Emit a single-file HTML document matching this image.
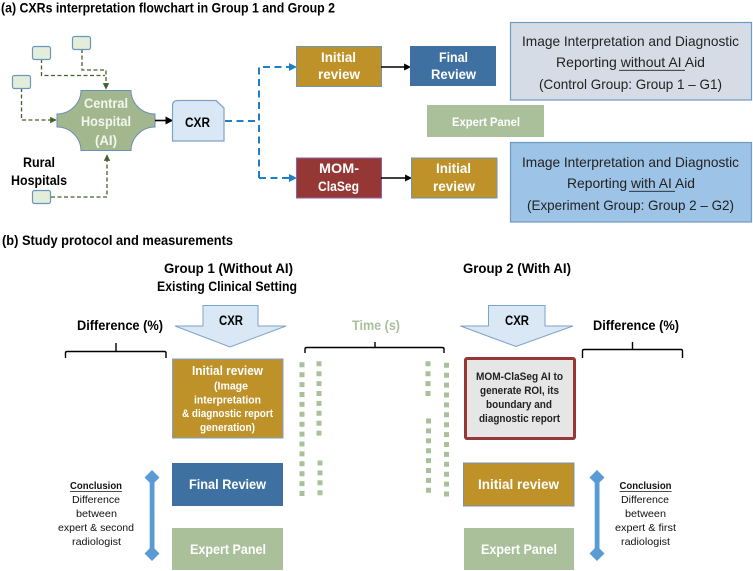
<!DOCTYPE html>
<html><head><meta charset="utf-8">
<style>
html,body{margin:0;padding:0;background:#fff}
svg{display:block;filter:blur(0.3px)}
text{font-family:"Liberation Sans",sans-serif}
.b{font-weight:bold}
.w{fill:#fff;font-weight:bold}
</style></head><body>
<svg xmlns="http://www.w3.org/2000/svg" width="753" height="571" viewBox="0 0 753 571">
<defs>
<marker id="ag" markerWidth="6" markerHeight="6" refX="4.5" refY="2.5" orient="auto"><path d="M0,0L5,2.5L0,5z" fill="#44602f"/></marker>
<marker id="ab" markerWidth="4" markerHeight="4" refX="3" refY="2" orient="auto"><path d="M0,0L4,2L0,4z" fill="#1f7fc4"/></marker>
<marker id="ak" markerWidth="5" markerHeight="5" refX="3.5" refY="2.5" orient="auto"><path d="M0,0L5,2.5L0,5z" fill="#000"/></marker>
</defs>

<text class="b" x="1" y="12.500" font-size="14" textLength="334" lengthAdjust="spacingAndGlyphs">(a) CXRs interpretation flowchart in Group 1 and Group 2</text>

<!-- connectors -->
<g fill="none" stroke="#44602f" stroke-width="1.300" stroke-dasharray="4 2.500">
<path d="M21.500,88V120H56" marker-end="url(#ag)"/>
<path d="M41.500,59V75.500H105"/>
<path d="M82,49V70H106V89" marker-end="url(#ag)"/>
<path d="M51,197H107V155" marker-end="url(#ag)"/>
</g>
<g fill="#e2eed9" stroke="#6a97bf" stroke-width="1.200">
<rect x="12.500" y="75.500" width="18" height="13" rx="2"/>
<rect x="32.500" y="46.500" width="18" height="13" rx="2"/>
<rect x="72.500" y="36.500" width="18" height="13" rx="2"/>
<rect x="32.500" y="190.500" width="18" height="13" rx="2"/>
</g>
<path d="M81,90.500H131A24,24 0 0 0 155,114V127A24,24 0 0 0 131,150.500H81A24,24 0 0 0 57,127V114A24,24 0 0 0 81,90.500Z" fill="#a3b78f" stroke="#6a8fb5" stroke-width="1"/>
<g fill="#f2f6ee" font-weight="bold" font-size="13.500">
<text x="84" y="108" textLength="44" lengthAdjust="spacingAndGlyphs">Central</text>
<text x="81" y="126" textLength="50" lengthAdjust="spacingAndGlyphs">Hospital</text>
<text x="95" y="145" textLength="22" lengthAdjust="spacingAndGlyphs">(AI)</text>
</g>
<text class="b" x="23" y="167" font-size="13.500" textLength="32" lengthAdjust="spacingAndGlyphs">Rural</text>
<text class="b" x="11" y="185" font-size="13.500" textLength="56" lengthAdjust="spacingAndGlyphs">Hospitals</text>

<path d="M155,120.500H171" stroke="#000" stroke-width="1.600" fill="none" marker-end="url(#ak)"/>
<path d="M178,100.500H216L224,108V141H172.500V106Q172.500,100.500 178,100.500Z" fill="#dae8f5" stroke="#7ca3c9" stroke-width="1.200"/>
<text class="b" x="185" y="127" font-size="13.500" textLength="25" lengthAdjust="spacingAndGlyphs">CXR</text>

<g fill="none" stroke="#1f7fc4" stroke-width="2" stroke-dasharray="7 4.500">
<path d="M225,121H259"/>
<path d="M259,178V67H295" marker-end="url(#ab)"/>
<path d="M259,178H295" marker-end="url(#ab)"/>
</g>

<rect x="296.500" y="46.500" width="85" height="40" fill="#bf9229" stroke="#6f94b8"/>
<text class="w" x="321" y="62" font-size="13.500" textLength="35" lengthAdjust="spacingAndGlyphs">Initial</text>
<text class="w" x="318" y="79" font-size="13.500" textLength="42" lengthAdjust="spacingAndGlyphs">review</text>
<path d="M381,67H409" stroke="#000" stroke-width="1.400" marker-end="url(#ak)"/>
<rect x="410" y="46" width="86" height="40" fill="#3e70a1"/>
<text class="w" x="439" y="62" font-size="13.500" textLength="29" lengthAdjust="spacingAndGlyphs">Final</text>
<text class="w" x="431" y="79" font-size="13.500" textLength="45" lengthAdjust="spacingAndGlyphs">Review</text>

<rect x="510.500" y="22.500" width="241" height="77.500" fill="#d6dce5" stroke="#6f9ac2" stroke-width="1.200"/>
<text x="522" y="46" font-size="14" textLength="217" lengthAdjust="spacingAndGlyphs" fill="#222">Image Interpretation and Diagnostic</text>
<text x="556" y="67" font-size="14" textLength="149" lengthAdjust="spacingAndGlyphs" fill="#222">Reporting without AI Aid</text>
<path d="M619,70.300H685" stroke="#222" stroke-width="0.800"/>
<text x="539" y="89" font-size="14" textLength="183" lengthAdjust="spacingAndGlyphs" fill="#222">(Control Group: Group 1 – G1)</text>

<rect x="427" y="105" width="117" height="32" fill="#a9c09a"/>
<text class="w" x="452" y="126" font-size="11.500" textLength="68" lengthAdjust="spacingAndGlyphs">Expert Panel</text>

<rect x="296.500" y="158" width="85" height="40" fill="#953735" stroke="#8d62a8"/>
<text class="w" x="319" y="173" font-size="13.500" textLength="40" lengthAdjust="spacingAndGlyphs">MOM-</text>
<text class="w" x="318" y="191" font-size="13.500" textLength="41" lengthAdjust="spacingAndGlyphs">ClaSeg</text>
<path d="M381,178H410" stroke="#000" stroke-width="1.400" marker-end="url(#ak)"/>
<rect x="411.500" y="158" width="85.500" height="40" fill="#bf9229" stroke="#6f94b8"/>
<text class="w" x="436" y="173" font-size="13.500" textLength="35" lengthAdjust="spacingAndGlyphs">Initial</text>
<text class="w" x="433" y="191" font-size="13.500" textLength="42" lengthAdjust="spacingAndGlyphs">review</text>

<rect x="510.500" y="142.500" width="241" height="79.500" fill="#9dc3e6" stroke="#6f9ac2" stroke-width="1.200"/>
<text x="522" y="167" font-size="14" textLength="217" lengthAdjust="spacingAndGlyphs" fill="#222">Image Interpretation and Diagnostic</text>
<text x="567" y="188" font-size="14" textLength="128" lengthAdjust="spacingAndGlyphs" fill="#222">Reporting with AI Aid</text>
<path d="M629,191.300H675" stroke="#222" stroke-width="0.800"/>
<text x="527" y="210" font-size="14" textLength="207" lengthAdjust="spacingAndGlyphs" fill="#222">(Experiment Group: Group 2 – G2)</text>

<!-- part b -->
<text class="b" x="2" y="245" font-size="14" textLength="231" lengthAdjust="spacingAndGlyphs">(b) Study protocol and measurements</text>
<text class="b" x="164" y="273" font-size="13.500" textLength="129" lengthAdjust="spacingAndGlyphs">Group 1 (Without AI)</text>
<text class="b" x="157" y="291" font-size="13.500" textLength="140" lengthAdjust="spacingAndGlyphs">Existing Clinical Setting</text>
<text class="b" x="463" y="273" font-size="13.500" textLength="108" lengthAdjust="spacingAndGlyphs">Group 2 (With AI)</text>

<text class="b" x="77" y="330" font-size="13.500" textLength="86" lengthAdjust="spacingAndGlyphs">Difference (%)</text>
<text class="b" x="593" y="330" font-size="13.500" textLength="86" lengthAdjust="spacingAndGlyphs">Difference (%)</text>
<text x="352" y="330" font-size="13.500" font-weight="bold" fill="#a9c09a" textLength="48" lengthAdjust="spacingAndGlyphs">Time (s)</text>

<g fill="none" stroke="#000" stroke-width="1.400">
<path d="M65.500,358V353Q65.500,351.500 67,351.500H164.500Q166,351.500 166,353V358M116,351.500V343"/>
<path d="M305,353V349Q305,347.500 307,347.500H442Q444,347.500 444,349V353M375,347.500V342"/>
<path d="M582.500,358V351Q582.500,349.500 584,349.500H681Q682.500,349.500 682.500,351V358M632.500,349.500V342"/>
</g>

<g fill="#dae8f5" stroke="#7ca3c9" stroke-width="1">
<path d="M203,305.500H258V326H286L230,347L175,326H203Z"/>
<path d="M488.500,305.500H545V326H573L516,346.500L460.500,326H488.500Z"/>
</g>
<text class="b" x="219" y="325" font-size="13.500" textLength="24" lengthAdjust="spacingAndGlyphs">CXR</text>
<text class="b" x="505" y="325" font-size="13.500" textLength="24" lengthAdjust="spacingAndGlyphs">CXR</text>

<rect x="172.500" y="359" width="110.500" height="79" fill="#bf9229" stroke="#7ca3c9"/>
<g font-size="11">
<text class="w" x="192" y="375" font-size="12.500" textLength="71" lengthAdjust="spacingAndGlyphs">Initial review</text>
<text class="w" x="214" y="389.500" textLength="34" lengthAdjust="spacingAndGlyphs">(Image</text>
<text class="w" x="194" y="403.500" textLength="67" lengthAdjust="spacingAndGlyphs">interpretation</text>
<text class="w" x="182" y="417" textLength="91" lengthAdjust="spacingAndGlyphs">&amp; diagnostic report</text>
<text class="w" x="200" y="431" textLength="55" lengthAdjust="spacingAndGlyphs">generation)</text>
</g>
<rect x="172" y="463" width="111" height="43" fill="#3e70a1"/>
<text class="w" x="189" y="489" font-size="14" textLength="77" lengthAdjust="spacingAndGlyphs">Final Review</text>
<rect x="172" y="528" width="111" height="42" fill="#a9c09a"/>
<text class="w" x="190" y="554" font-size="14" textLength="76" lengthAdjust="spacingAndGlyphs">Expert Panel</text>

<rect x="465.500" y="358.500" width="109" height="80" rx="1.500" fill="#e7e6e6" stroke="#953735" stroke-width="3"/>
<g font-weight="bold" font-size="11" fill="#222">
<text x="476" y="380" textLength="87" lengthAdjust="spacingAndGlyphs">MOM-ClaSeg AI to</text>
<text x="480" y="394" textLength="79" lengthAdjust="spacingAndGlyphs">generate ROI, its</text>
<text x="486" y="408" textLength="66" lengthAdjust="spacingAndGlyphs">boundary and</text>
<text x="479" y="422" textLength="81" lengthAdjust="spacingAndGlyphs">diagnostic report</text>
</g>
<rect x="463.500" y="463" width="110.500" height="43" fill="#bf9229" stroke="#6f94b8"/>
<text class="w" x="478" y="489" font-size="14" textLength="81" lengthAdjust="spacingAndGlyphs">Initial review</text>
<rect x="464" y="528" width="110" height="42" fill="#a9c09a"/>
<text class="w" x="481" y="554" font-size="14" textLength="76" lengthAdjust="spacingAndGlyphs">Expert Panel</text>

<!-- double arrows -->
<g fill="#5b9bd5">
<path d="M149.700,477h4.800v76h-4.800z"/>
<path d="M152,470l7.500,7.500l-7.500,7.500l-7.500,-7.500z"/>
<path d="M152,546l7.500,7.500l-7.500,7.500l-7.500,-7.500z"/>
<path d="M594.700,477h4.800v76h-4.800z"/>
<path d="M597,470l7.500,7.500l-7.500,7.500l-7.500,-7.500z"/>
<path d="M597,546l7.500,7.500l-7.500,7.500l-7.500,-7.500z"/>
</g>

<g font-size="10.500" fill="#111">
<text class="b" x="70" y="489" textLength="52" lengthAdjust="spacingAndGlyphs">Conclusion</text>
<path d="M70,491.500H122" stroke="#111" stroke-width="0.800"/>
<text x="72" y="503" textLength="48" lengthAdjust="spacingAndGlyphs">Difference</text>
<text x="76" y="517" textLength="41" lengthAdjust="spacingAndGlyphs">between</text>
<text x="58" y="531" textLength="76" lengthAdjust="spacingAndGlyphs">expert &amp; second</text>
<text x="72" y="545" textLength="49" lengthAdjust="spacingAndGlyphs">radiologist</text>
<text class="b" x="619.500" y="489" textLength="52" lengthAdjust="spacingAndGlyphs">Conclusion</text>
<path d="M619.500,491.500H671.500" stroke="#111" stroke-width="0.800"/>
<text x="621" y="503" textLength="48" lengthAdjust="spacingAndGlyphs">Difference</text>
<text x="625" y="517" textLength="41" lengthAdjust="spacingAndGlyphs">between</text>
<text x="615" y="531" textLength="61" lengthAdjust="spacingAndGlyphs">expert &amp; first</text>
<text x="621" y="545" textLength="49" lengthAdjust="spacingAndGlyphs">radiologist</text>
</g>

<!-- dotted time columns -->
<g fill="none" stroke="#a9c09a" stroke-width="5" stroke-dasharray="5 4.900">
<path d="M302,362.300V497"/>
<path d="M319,361.300V436"/>
<path d="M320,460.500V496"/>
<path d="M428,361.300V396"/>
<path d="M428.500,418.500V494"/>
<path d="M446.500,362.800V498"/>
</g>
</svg>
</body></html>
